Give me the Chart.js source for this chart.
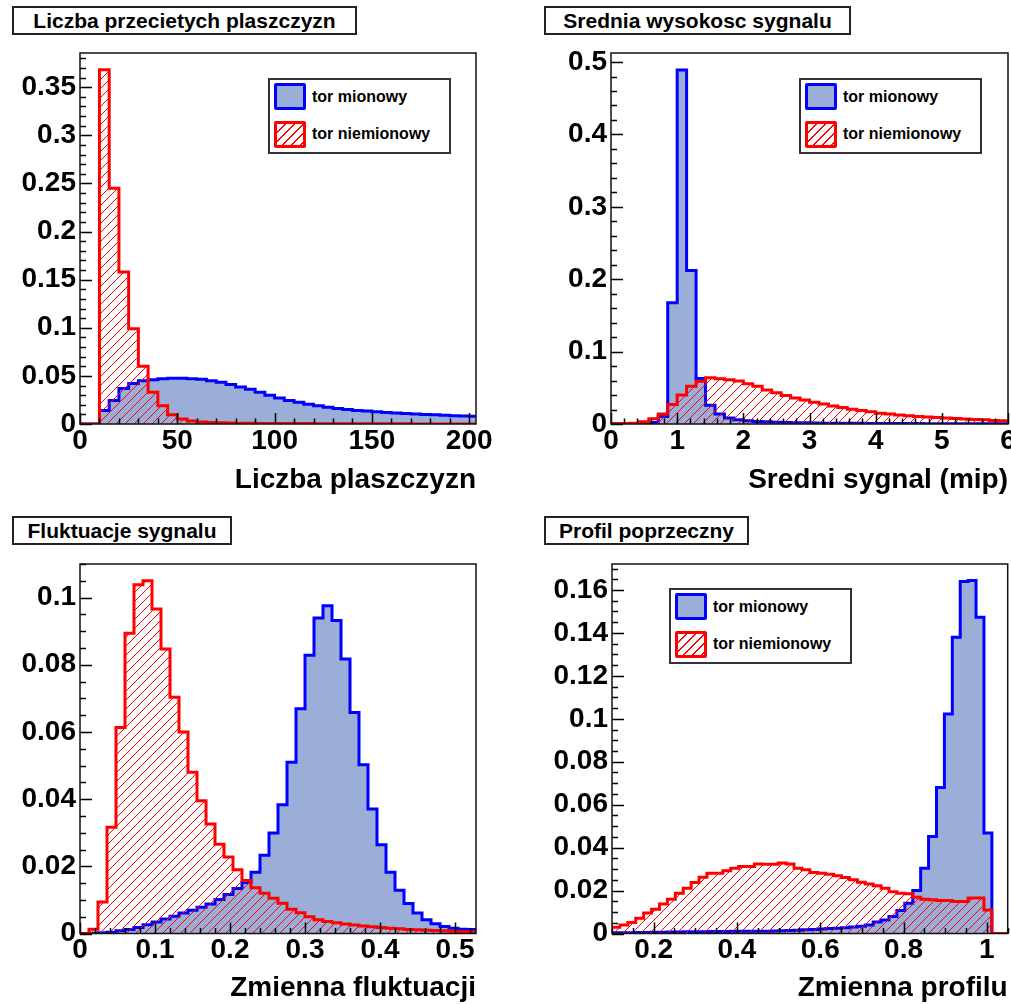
<!DOCTYPE html>
<html>
<head>
<meta charset="utf-8">
<script src="https://cdn.jsdelivr.net/npm/chart.js@4.4.1/dist/chart.umd.min.js"></script>
<style>
  html, body { margin: 0; padding: 0; background: #fff; }
  #page { position: relative; width: 1011px; height: 1004px; background: #fff; overflow: hidden;
          font-family: "Liberation Sans", Arial, Helvetica, sans-serif; }
  canvas { position: absolute; }
  .ttl { position: absolute; box-sizing: border-box; border: 2px solid #222; background: #fff;
         font-weight: bold; font-size: 21px; color: #000; display: flex; align-items: center;
         justify-content: center; white-space: nowrap; }
  .leg { position: absolute; box-sizing: border-box; border: 2px solid #333; background: #fff; }
  .sw { position: absolute; box-sizing: border-box; width: 32px; height: 27px; border-radius: 2px; }
  .sw.mu { border: 3px solid #0000ff; background: rgb(155,174,216); }
  .sw.nm { border: 3px solid #ff0000;
           background: repeating-linear-gradient(135deg, #fff 0px, #fff 5.4px, #f00 5.4px, #f00 6.4px); }
  .lt { position: absolute; font-weight: bold; font-size: 16px; color: #000; white-space: nowrap;
        line-height: 20px; }
</style>
</head>
<body>
<div id="page">
  <canvas id="c1" width="505" height="502" style="left:0;top:0;width:505px;height:502px"></canvas>
  <canvas id="c2" width="506" height="502" style="left:505px;top:0;width:506px;height:502px"></canvas>
  <canvas id="c3" width="505" height="502" style="left:0;top:502px;width:505px;height:502px"></canvas>
  <canvas id="c4" width="506" height="502" style="left:505px;top:502px;width:506px;height:502px"></canvas>

  <div class="ttl" style="left:12px;top:6px;width:345px;height:29px">Liczba przecietych plaszczyzn</div>
  <div class="ttl" style="left:544px;top:6px;width:307px;height:29px">Srednia wysokosc sygnalu</div>
  <div class="ttl" style="left:12px;top:516px;width:220px;height:29px">Fluktuacje sygnalu</div>
  <div class="ttl" style="left:544px;top:516px;width:205px;height:29px">Profil poprzeczny</div>

  <!-- legends -->
  <div class="leg" style="left:268px;top:78px;width:183px;height:76px"></div>
  <div class="sw mu" style="left:274px;top:83px"></div>
  <div class="sw nm" style="left:274px;top:121px"></div>
  <div class="lt" style="left:312px;top:87px">tor mionowy</div>
  <div class="lt" style="left:312px;top:124px">tor niemionowy</div>

  <div class="leg" style="left:799px;top:78px;width:183px;height:76px"></div>
  <div class="sw mu" style="left:805px;top:83px"></div>
  <div class="sw nm" style="left:805px;top:121px"></div>
  <div class="lt" style="left:843px;top:87px">tor mionowy</div>
  <div class="lt" style="left:843px;top:124px">tor niemionowy</div>

  <div class="leg" style="left:669px;top:588px;width:183px;height:76px"></div>
  <div class="sw mu" style="left:675px;top:593px"></div>
  <div class="sw nm" style="left:675px;top:631px"></div>
  <div class="lt" style="left:713px;top:597px">tor mionowy</div>
  <div class="lt" style="left:713px;top:634px">tor niemionowy</div>
</div>

<script>
// ---------------- DATA ----------------
// Panel 1: Liczba przecietych plaszczyzn (bins of 5, starting at 0)
const P1_BIN_START = 0, P1_BIN_WIDTH = 5;
const P1_MUON = [0, 0, 0.014, 0.0245, 0.037, 0.042, 0.045, 0.046, 0.047, 0.0475, 0.0475, 0.047, 0.0465,
  0.045, 0.0435, 0.041, 0.0385, 0.036, 0.033, 0.030, 0.027, 0.0245, 0.0225, 0.0205, 0.019, 0.0175, 0.016,
  0.015, 0.014, 0.0134, 0.0127, 0.012, 0.0115, 0.011, 0.0105, 0.010, 0.0095, 0.009, 0.0086, 0.0083, 0.008];
const P1_NONMUON = [0, 0, 0.368, 0.245, 0.158, 0.099, 0.060, 0.033, 0.019, 0.0096, 0.0052, 0.0032, 0.0022,
  0.0016, 0.0012, 0.001, 0.0008, 0.0007, 0.0006, 0.0005, 0.0005, 0.0004, 0.0004, 0.0004, 0.0003, 0.0003,
  0.0003, 0.0003, 0.0002, 0.0002, 0.0002, 0.0002, 0.0002, 0.0002, 0.0001, 0.0001, 0.0001, 0.0001, 0.0001,
  0.0001, 0.0001];
const P1_X_TICKS = [0, 50, 100, 150, 200];
const P1_Y_TICKS = [0, 0.05, 0.1, 0.15, 0.2, 0.25, 0.3, 0.35];

// Panel 2: Srednia wysokosc sygnalu (42 bins over 0..6)
const P2_BIN_START = 0, P2_BIN_WIDTH = 6 / 42;
const P2_MUON = [0.0002, 0.0003, 0.0004, 0.0007, 0.002, 0.0105, 0.1676, 0.489, 0.212, 0.063, 0.026, 0.0138,
  0.0083, 0.006, 0.0045, 0.0036, 0.003, 0.0025, 0.0021, 0.0018, 0.0016, 0.0014, 0.0012, 0.0011, 0.001,
  0.0009, 0.0009, 0.0008, 0.0008, 0.0007, 0.0007, 0.0006, 0.0006, 0.0005, 0.0005, 0.0005, 0.0004, 0.0004,
  0.0004, 0.0003, 0.0003, 0.0003];
const P2_NONMUON = [0.0005, 0.0007, 0.001, 0.003, 0.0072, 0.0138, 0.027, 0.040, 0.052, 0.059, 0.064, 0.0625,
  0.061, 0.0595, 0.0555, 0.052, 0.047, 0.043, 0.0395, 0.036, 0.033, 0.030, 0.0275, 0.025, 0.0228, 0.0205,
  0.0185, 0.0168, 0.015, 0.0138, 0.0125, 0.0115, 0.0105, 0.0097, 0.009, 0.0083, 0.0077, 0.007, 0.0063,
  0.0057, 0.005, 0.0045];
const P2_X_TICKS = [0, 1, 2, 3, 4, 5, 6];
const P2_Y_TICKS = [0, 0.1, 0.2, 0.3, 0.4, 0.5];

// Panel 3: Fluktuacje sygnalu (bins of 0.012 from 0)
const P3_BIN_START = 0, P3_BIN_WIDTH = 0.012;
const P3_MUON = [0, 0.0001, 0.0002, 0.0004, 0.0008, 0.0012, 0.0018, 0.0026, 0.0034, 0.0043, 0.0051, 0.0061,
  0.0069, 0.0078, 0.0088, 0.0101, 0.0116, 0.0134, 0.0152, 0.0182, 0.0233, 0.0299, 0.0383, 0.051, 0.0669,
  0.0828, 0.0939, 0.0976, 0.0932, 0.0817, 0.0658, 0.0502, 0.0371, 0.0264, 0.0182, 0.0129, 0.0089, 0.0061,
  0.0041, 0.0029, 0.0021, 0.0016, 0.0013, 0.0012];
const P3_NONMUON = [0, 0.0013, 0.0094, 0.0316, 0.0613, 0.0894, 0.1038, 0.105, 0.0966, 0.0847, 0.0703, 0.060,
  0.048, 0.0395, 0.0326, 0.0266, 0.0228, 0.019, 0.0158, 0.0136, 0.012, 0.0105, 0.009, 0.0072, 0.0062, 0.005,
  0.0041, 0.0036, 0.0032, 0.0028, 0.0025, 0.0022, 0.002, 0.0018, 0.0016, 0.0014, 0.0012, 0.0011, 0.001,
  0.0009, 0.0008, 0.0007, 0.0006, 0.0005];
const P3_X_TICKS = [0, 0.1, 0.2, 0.3, 0.4, 0.5];
const P3_Y_TICKS = [0, 0.02, 0.04, 0.06, 0.08, 0.1];

// Panel 4: Profil poprzeczny (bins of 0.019 from 0.1)
const P4_BIN_START = 0.1, P4_BIN_WIDTH = 0.019;
const P4_MUON = [0.0003, 0.0004, 0.0004, 0.0005, 0.0005, 0.0006, 0.0006, 0.0007, 0.0007, 0.0008, 0.0008,
  0.0008, 0.0009, 0.0009, 0.0009, 0.001, 0.001, 0.001, 0.001, 0.0011, 0.0012, 0.0013, 0.0014, 0.0015, 0.0017,
  0.0019, 0.0021, 0.0023, 0.0025, 0.0027, 0.003, 0.0034, 0.004, 0.0053, 0.0063, 0.0079, 0.0107, 0.0141,
  0.020, 0.0304, 0.0452, 0.068, 0.1022, 0.138, 0.164, 0.1644, 0.1473, 0.0468, 0, 0];
const P4_NONMUON = [0.0029, 0.004, 0.0051, 0.0071, 0.0095, 0.0113, 0.0137, 0.016, 0.0188, 0.0211, 0.0237,
  0.0262, 0.0281, 0.0281, 0.0292, 0.0304, 0.0312, 0.0312, 0.0324, 0.0322, 0.0322, 0.0328, 0.0324, 0.0304,
  0.0297, 0.0284, 0.0281, 0.0276, 0.0269, 0.0261, 0.025, 0.0239, 0.0231, 0.0222, 0.0211, 0.0195, 0.0188,
  0.0185, 0.0169, 0.016, 0.0157, 0.0154, 0.0154, 0.0149, 0.0149, 0.0165, 0.0165, 0.011, 0, 0];
const P4_X_TICKS = [0.2, 0.4, 0.6, 0.8, 1];
const P4_Y_TICKS = [0, 0.02, 0.04, 0.06, 0.08, 0.1, 0.12, 0.14, 0.16];

const LABEL_MUON = 'tor mionowy';
const LABEL_NONMUON = 'tor niemionowy';

// ---------------- STYLE / HELPERS ----------------
const FONT = '"Liberation Sans", Arial, Helvetica, sans-serif';
const BLUE = '#0000ff', BLUE_FILL = 'rgb(155,174,216)', RED = '#ff0000';

function hatchPattern() {
  const s = 9;
  const c = document.createElement('canvas');
  c.width = s; c.height = s;
  const g = c.getContext('2d');
  g.strokeStyle = RED; g.lineWidth = 1;
  g.beginPath();
  for (const o of [-s, 0, s]) { g.moveTo(o, s); g.lineTo(o + s, 0); }
  g.stroke();
  return g.createPattern(c, 'repeat');
}
const HATCH = hatchPattern();

function histPoints(start, width, values) {
  const pts = values.map((v, i) => ({ x: start + i * width, y: v }));
  pts.push({ x: start + values.length * width, y: values[values.length - 1] });
  return pts;
}

function fmt(v) { return String(Number(v.toFixed(6))); }

const rootFrame = {
  id: 'rootFrame',
  afterDatasetsDraw(chart, args, o) {
    const { ctx, chartArea: a, scales: { x, y } } = chart;
    ctx.save();
    ctx.strokeStyle = '#000';
    ctx.lineWidth = 1.5;
    ctx.beginPath();
    const near = (list, v, tol) => list.some(t => Math.abs(t - v) < tol);
    const x0 = Math.ceil(x.min / o.xMinor - 1e-6);
    for (let i = x0; i * o.xMinor <= x.max + 1e-9; i++) {
      const v = i * o.xMinor;
      const px = Math.round(x.getPixelForValue(v)) + 0.5;
      const len = near(o.xTicks, v, o.xMinor / 10) ? 11 : 5.5;
      ctx.moveTo(px, a.bottom); ctx.lineTo(px, a.bottom - len);
    }
    const y0 = Math.ceil(y.min / o.yMinor - 1e-6);
    for (let i = y0; i * o.yMinor <= y.max + 1e-9; i++) {
      const v = i * o.yMinor;
      const py = Math.round(y.getPixelForValue(v)) + 0.5;
      const len = near(o.yTicks, v, o.yMinor / 10) ? 12 : 6;
      ctx.moveTo(a.left, py); ctx.lineTo(a.left + len, py);
    }
    ctx.stroke();
    ctx.lineWidth = 1.5;
    ctx.strokeStyle = '#111';
    ctx.strokeRect(a.left, a.top, a.right - a.left, a.bottom - a.top);
    ctx.restore();
  }
};

function makeChart(id, cfg) {
  const canvas = document.getElementById(id);
  const W = canvas.width, H = canvas.height;
  const tickFont = { family: FONT, size: 28, weight: 'bold' };
  return new Chart(canvas, {
    type: 'line',
    data: {
      datasets: [
        { label: LABEL_NONMUON, data: histPoints(cfg.start, cfg.width, cfg.nonmuon), stepped: true,
          borderColor: RED, borderWidth: 3, backgroundColor: HATCH, fill: 'origin', pointRadius: 0,
          order: 0, borderJoinStyle: 'miter' },
        { label: LABEL_MUON, data: histPoints(cfg.start, cfg.width, cfg.muon), stepped: true,
          borderColor: BLUE, borderWidth: 3, backgroundColor: BLUE_FILL, fill: 'origin', pointRadius: 0,
          order: 1, borderJoinStyle: 'miter' }
      ]
    },
    options: {
      responsive: false, animation: false, devicePixelRatio: 1,
      layout: { padding: { left: 0, top: cfg.frame.top, right: W - cfg.frame.right, bottom: 0 } },
      plugins: {
        legend: { display: false }, tooltip: { enabled: false }, title: { display: false },
        rootFrame: { xTicks: cfg.xTicks, yTicks: cfg.yTicks, xMinor: cfg.xMinor, yMinor: cfg.yMinor }
      },
      scales: {
        x: {
          type: 'linear', min: cfg.xMin, max: cfg.xMax,
          grid: { display: false, drawTicks: false }, border: { display: false },
          ticks: { font: tickFont, color: '#000', padding: 0, autoSkip: false, maxRotation: 0,
                   callback: v => fmt(v) },
          title: { display: true, text: cfg.xTitle, align: 'end', color: '#000',
                   font: { family: FONT, size: 28, weight: 'bold', lineHeight: 1 },
                   padding: { top: 0, bottom: cfg.titlePad } },
          afterBuildTicks: s => { s.ticks = cfg.xTicks.map(v => ({ value: v })); },
          afterFit: s => { s.height = H - cfg.frame.bottom; s.paddingLeft = 0; s.paddingRight = 0; }
        },
        y: {
          type: 'linear', min: 0, max: cfg.yMax,
          grid: { display: false, drawTicks: false }, border: { display: false },
          ticks: { font: tickFont, color: '#000', padding: 4, autoSkip: false, callback: v => fmt(v) },
          afterBuildTicks: s => { s.ticks = cfg.yTicks.map(v => ({ value: v })); },
          afterFit: s => { s.width = cfg.frame.left; s.paddingTop = 0; s.paddingBottom = 0; }
        }
      }
    },
    plugins: [rootFrame]
  });
}

makeChart('c1', {
  start: P1_BIN_START, width: P1_BIN_WIDTH, muon: P1_MUON, nonmuon: P1_NONMUON,
  xMin: 0, xMax: 203.5, yMax: 0.3855, xTicks: P1_X_TICKS, yTicks: P1_Y_TICKS, xMinor: 10, yMinor: 0.01,
  xTitle: 'Liczba plaszczyzn', titlePad: 8,
  frame: { left: 80, top: 53, right: 476, bottom: 424 }
});
makeChart('c2', {
  start: P2_BIN_START, width: P2_BIN_WIDTH, muon: P2_MUON, nonmuon: P2_NONMUON,
  xMin: 0, xMax: 6, yMax: 0.5125, xTicks: P2_X_TICKS, yTicks: P2_Y_TICKS, xMinor: 0.2, yMinor: 0.02,
  xTitle: 'Sredni sygnal (mip)', titlePad: 8,
  frame: { left: 106, top: 53, right: 503, bottom: 424 }
});
makeChart('c3', {
  start: P3_BIN_START, width: P3_BIN_WIDTH, muon: P3_MUON, nonmuon: P3_NONMUON,
  xMin: 0, xMax: 0.528, yMax: 0.110, xTicks: P3_X_TICKS, yTicks: P3_Y_TICKS, xMinor: 0.02, yMinor: 0.005,
  xTitle: 'Zmienna fluktuacji', titlePad: 2,
  frame: { left: 80, top: 62, right: 476, bottom: 431.5 }
});
makeChart('c4', {
  start: P4_BIN_START, width: P4_BIN_WIDTH, muon: P4_MUON, nonmuon: P4_NONMUON,
  xMin: 0.1, xMax: 1.05, yMax: 0.1721, xTicks: P4_X_TICKS, yTicks: P4_Y_TICKS, xMinor: 0.05, yMinor: 0.005,
  xTitle: 'Zmienna profilu', titlePad: 2,
  frame: { left: 107, top: 62, right: 502.7, bottom: 431.5 }
});
</script>
</body>
</html>
